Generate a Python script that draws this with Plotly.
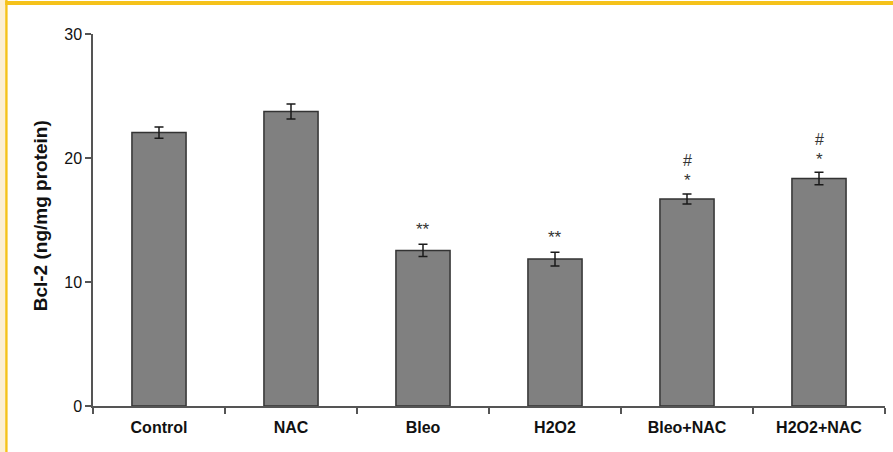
import plotly.graph_objects as go

# ---- data ----
categories = ["Control", "NAC", "Bleo", "H2O2", "Bleo+NAC", "H2O2+NAC"]
values = [22.05, 23.75, 12.55, 11.85, 16.7, 18.35]
errors = [0.45, 0.6, 0.5, 0.55, 0.4, 0.5]
sig_star = ["", "", "**", "**", "*", "*"]
sig_hash = ["", "", "", "", "#", "#"]
y_ticks = [0, 10, 20, 30]

W, H = 893, 452
L, R, T, B = 93, 8, 34, 46
PW, PH = W - L - R, H - T - B

def px_x(px):
    return (px - L) / PW

def px_y(py):
    return (H - B - py) / PH

fig = go.Figure()
fig.add_trace(go.Bar(
    x=categories, y=values,
    marker=dict(color="#808080", line=dict(color="#333333", width=1.5)),
    error_y=dict(type="data", array=errors, visible=True,
                 color="#1a1a1a", thickness=1.5, width=4.5),
    width=0.41,
))

annotations = []
for c, v, e, s, h in zip(categories, values, errors, sig_star, sig_hash):
    if s:
        annotations.append(dict(x=c, y=v + e, xref="x", yref="y", text=s,
                                showarrow=False, yanchor="middle", yshift=15 if s == "**" else 13,
                                font=dict(family="Arial, Liberation Sans", size=17, color="#333333")))
    if h:
        annotations.append(dict(x=c, y=v + e, xref="x", yref="y", text=h,
                                showarrow=False, yanchor="middle", yshift=33,
                                font=dict(family="Arial, Liberation Sans", size=16, color="#333333")))

annotations.append(dict(x=px_x(40), y=0.51, xref="paper", yref="paper",
                        text="<b>Bcl-2 (ng/mg protein)</b>", textangle=-90,
                        showarrow=False, xanchor="center", yanchor="middle",
                        font=dict(family="Arial, Liberation Sans", size=19, color="#111111")))

shapes = [
    dict(type="rect", xref="paper", yref="paper", x0=px_x(0), x1=px_x(5.2),
         y0=px_y(H), y1=px_y(0), fillcolor="#FCEFD2", line=dict(width=0), layer="above"),
    dict(type="rect", xref="paper", yref="paper", x0=px_x(5.2), x1=px_x(7.6),
         y0=px_y(H), y1=px_y(0), fillcolor="#F5C21B", line=dict(width=0), layer="above"),
    dict(type="rect", xref="paper", yref="paper", x0=px_x(5.2), x1=px_x(W),
         y0=px_y(5), y1=px_y(1), fillcolor="#F5C21B", line=dict(width=0), layer="above"),
]

fig.update_layout(
    width=W, height=H,
    margin=dict(l=L, r=R, t=T, b=B, pad=0),
    paper_bgcolor="white", plot_bgcolor="white",
    showlegend=False,
    annotations=annotations,
    shapes=shapes,
    xaxis=dict(type="category", tickson="boundaries", ticks="outside", ticklen=6,
               tickcolor="#555555", tickwidth=1.5, ticklabelstandoff=6,
               showline=True, linecolor="#555555", linewidth=1.5,
               showgrid=False, zeroline=False, range=[-0.5, 5.5],
               tickfont=dict(family="Arial, Liberation Sans", size=16, color="#111111", weight="bold")),
    yaxis=dict(range=[0, 30], tickvals=y_ticks, ticks="outside", ticklen=6,
               tickcolor="#555555", tickwidth=1.5,
               showline=True, linecolor="#555555", linewidth=1.5,
               showgrid=False, zeroline=False,
               tickfont=dict(family="Arial, Liberation Sans", size=16, color="#111111")),
)

fig.write_html("out.html", config={"displayModeBar": False},
               post_script="document.body.style.margin='0';document.body.style.overflow='hidden';")
